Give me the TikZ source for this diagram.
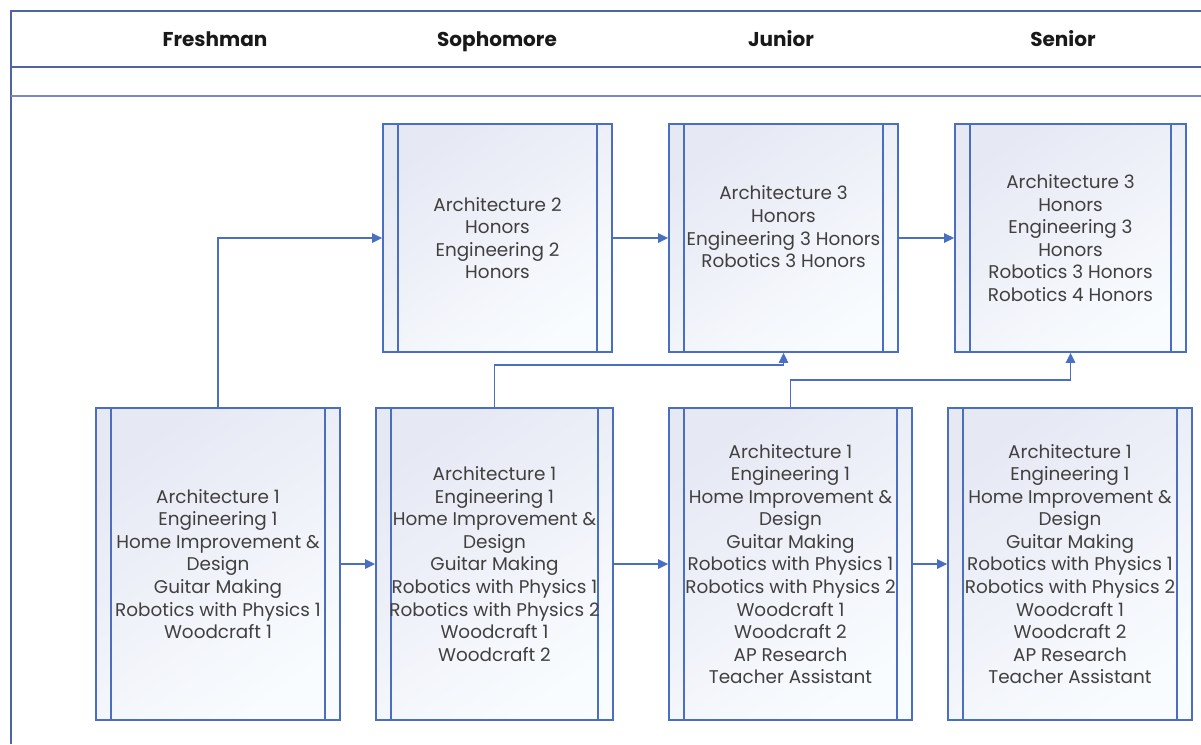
\documentclass[tikz,border=0pt]{standalone}
\usepackage{fontspec}
\setmainfont{Poppins}
\usetikzlibrary{arrows.meta,calc}
\definecolor{lineblue}{HTML}{4A6FC0}
\definecolor{frameblue}{HTML}{4F63A6}
\definecolor{lav}{HTML}{E6E8F4}
\definecolor{pale}{HTML}{F9FCFE}
\definecolor{txt}{HTML}{404040}
\tikzset{
  course/.style={draw=lineblue, line width=1.3pt, top color=lav, bottom color=pale, shading angle=35,
    inner sep=0pt, align=center, text=txt, font=\fontsize{13.8}{16.9}\selectfont,
    path picture={
      \draw[lineblue, line width=1.1pt]
        ($(path picture bounding box.north west)+(15,0)$) -- ($(path picture bounding box.south west)+(15,0)$)
        ($(path picture bounding box.north east)+(-15,0)$) -- ($(path picture bounding box.south east)+(-15,0)$);
    }},
  arr/.style={draw=lineblue, line width=1.3pt, -{Triangle[length=7.5pt,width=7pt]}},
  frame/.style={draw=frameblue, line width=1.4pt},
  head/.style={font=\fontsize{15}{17}\selectfont\bfseries, text=black!90, anchor=base}
}
\begin{document}
\begin{tikzpicture}[x=0.75pt, y=-0.75pt]
\useasboundingbox (0,0) rectangle (1201,744);
\fill[white] (0,0) rectangle (1201,744);
% frame
\coordinate (tl) at (11,11);
\coordinate (tr) at (1201,11);
\coordinate (bl) at (11,744);
\draw[frame] (tr) -- (tl) -- (bl);
\draw[frame] (11,67) -- (1201,67);
\draw[frame, draw=frameblue!75] (11,96) -- (1201,96);
% headers
\node[head] (hf) at (215,46) {Freshman};
\node[head] (hs) at (497,46) {Sophomore};
\node[head] (hj) at (781,46) {Junior};
\node[head] (hn) at (1063,46) {Senior};
% top row
\node[course, minimum width=229*0.75pt, minimum height=228*0.75pt] (s1) at (497.5,238)
  {Architecture 2\\Honors\\Engineering 2\\Honors};
\node[course, minimum width=229*0.75pt, minimum height=228*0.75pt] (j1) at (783.5,238)
  {Architecture 3\\Honors\\Engineering 3 Honors\\Robotics 3 Honors\\\mbox{}};
\node[course, minimum width=231*0.75pt, minimum height=228*0.75pt] (n1) at (1070.5,238)
  {Architecture 3\\Honors\\Engineering 3\\Honors\\Robotics 3 Honors\\Robotics 4 Honors};
% bottom row
\node[course, minimum width=244*0.75pt, minimum height=312*0.75pt] (f2) at (218,564)
  {Architecture 1\\Engineering 1\\Home Improvement \&\\Design\\Guitar Making\\Robotics with Physics 1\\Woodcraft 1};
\node[course, minimum width=237*0.75pt, minimum height=312*0.75pt] (s2) at (494.5,564)
  {Architecture 1\\Engineering 1\\Home Improvement \&\\Design\\Guitar Making\\Robotics with Physics 1\\Robotics with Physics 2\\Woodcraft 1\\Woodcraft 2};
\node[course, minimum width=243*0.75pt, minimum height=312*0.75pt] (j2) at (790.5,564)
  {Architecture 1\\Engineering 1\\Home Improvement \&\\Design\\Guitar Making\\Robotics with Physics 1\\Robotics with Physics 2\\Woodcraft 1\\Woodcraft 2\\AP Research\\Teacher Assistant};
\node[course, minimum width=244*0.75pt, minimum height=312*0.75pt] (n2) at (1070,564)
  {Architecture 1\\Engineering 1\\Home Improvement \&\\Design\\Guitar Making\\Robotics with Physics 1\\Robotics with Physics 2\\Woodcraft 1\\Woodcraft 2\\AP Research\\Teacher Assistant};
% connectors
\draw[arr] (f2.north) |- (s1.west);
\draw[arr] (s1.east) -- (j1.west);
\draw[arr] (j1.east) -- (n1.west);
\draw[arr] (f2.east) -- (s2.west);
\draw[arr] (s2.east) -- (j2.west);
\draw[arr] (j2.east) -- (n2.west);
\draw[arr] (s2.north) -- (s2.north |- 0,365) -| (j1.south);
\draw[arr] (j2.north) -- (j2.north |- 0,380) -| (n1.south);
\end{tikzpicture}
\end{document}
